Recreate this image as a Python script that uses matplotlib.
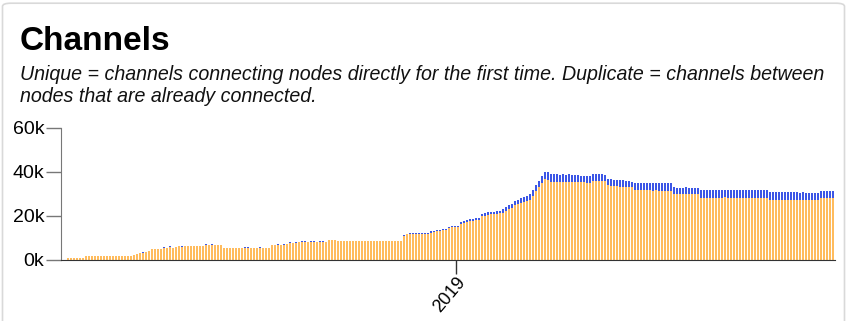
import numpy as np
import pandas as pd
import matplotlib
matplotlib.use("Agg")
import matplotlib.pyplot as plt
import matplotlib.dates as mdates
from matplotlib.patches import FancyBboxPatch

plt.rcParams['font.family'] = ['Liberation Sans', 'DejaVu Sans']

###############################################################################
# data (thousands of channels), one bar every 3 days
###############################################################################

unique = [
    1.0, 1.0, 1.0, 1.0, 1.0, 1.0,
    1.8, 1.8, 1.8, 1.8, 1.8, 1.8, 1.8, 1.8, 1.8, 1.8, 1.8, 1.8, 1.8, 1.8, 1.8, 1.8,
    2.2, 2.6, 3.0, 3.4, 3.8, 4.3,
    4.8, 4.9, 4.9, 4.9,
    5.4, 5.6, 5.9, 5.6, 6.0, 6.2, 6.1,
    6.4, 6.5, 6.5, 6.5, 6.4, 6.5, 6.5,
    6.9, 6.9, 6.9, 7.0, 6.9, 6.8,
    5.5, 5.5, 5.5, 5.5, 5.5, 5.5, 5.5, 5.5, 5.5, 5.5, 5.5, 5.5, 5.5, 5.5, 5.5, 5.5,
    6.6, 6.8, 6.8, 6.9, 7.0,
    7.5, 7.7, 7.8, 7.9, 8.0,
    8.3, 8.3, 8.3, 8.3, 8.3, 8.3, 8.3, 8.3, 8.3,
    8.9, 8.9, 8.9,
    8.5, 8.5, 8.5, 8.5, 8.5, 8.5, 8.5, 8.5, 8.5, 8.5, 8.5,
    8.5, 8.5, 8.5, 8.5, 8.5, 8.5, 8.5, 8.5, 8.5, 8.5, 8.5,
    10.8, 11.6, 11.8, 11.8,
    11.9, 11.9, 11.9, 11.9, 11.9,
    12.5, 12.7, 13.0, 13.3, 13.6, 13.8,
    14.6, 14.8, 14.8, 15.0,
    16.5, 17.0, 17.5, 17.8, 17.8, 18.0, 18.3,
    19.8, 20.2, 20.5, 20.8, 20.8, 21.0, 21.3,
    21.5, 22.4, 23.3, 23.7, 25.0, 25.4, 25.8, 26.2, 26.6, 27.4, 29.2,
    31.3, 33.2, 35.2,
    36.6, 36.5,
    35.6, 35.5, 35.6, 35.4, 35.5, 35.4, 35.5, 35.3, 35.4, 35.3, 35.3, 35.3, 35.2, 35.2,
    36.0, 36.0, 36.1, 36.0, 35.9,
    34.0, 33.8, 33.6, 33.6, 33.4, 33.3, 33.2, 33.1, 33.0,
    31.8, 31.7, 31.7, 31.6, 31.6, 31.6, 31.5, 31.6, 31.5, 31.5, 31.5, 31.4, 31.4,
    29.9, 29.9, 29.9, 29.8, 29.9, 29.9, 29.8, 29.8, 29.8,
    28.1, 28.1, 28.0, 28.1, 28.1, 28.0, 28.1, 28.1, 28.5, 28.1, 28.0, 28.1,
    28.1, 28.0, 28.1, 28.1, 28.0, 28.1, 28.1, 28.0, 28.1, 28.1, 28.0,
    27.4, 27.4, 27.3, 27.4, 27.4, 27.5, 27.4, 27.4, 27.3, 27.4, 27.4, 27.3,
    27.4, 27.3, 27.4, 27.3, 27.3,
    28.1, 28.1, 28.1, 28.0, 28.1,
]

duplicate = [
    0, 0, 0, 0, 0, 0,
    0, 0, 0, 0, 0, 0, 0, 0, 0, 0, 0, 0, 0, 0, 0, 0,
    0, 0.2, 0, 0.3, 0, 0,
    0, 0, 0, 0,
    0.3, 0, 0.3, 0, 0, 0, 0.2,
    0, 0, 0, 0, 0, 0, 0,
    0.3, 0, 0.3, 0, 0, 0,
    0, 0, 0, 0, 0, 0, 0, 0.3, 0.3, 0, 0, 0, 0.3, 0, 0, 0,
    0.3, 0, 0.3, 0, 0.3,
    0, 0.3, 0, 0.3, 0,
    0.3, 0.3, 0, 0.3, 0.3, 0, 0.3, 0.3, 0,
    0.3, 0.3, 0.3,
    0, 0, 0, 0.3, 0, 0, 0, 0, 0, 0, 0,
    0.2, 0, 0, 0, 0, 0.3, 0.3, 0, 0.2, 0, 0,
    0.4, 0.4, 0.4, 0.4,
    0.4, 0.4, 0.4, 0.4, 0.4,
    0.5, 0.5, 0.5, 0.5, 0.5, 0.5,
    0.6, 0.6, 0.6, 0.6,
    0.8, 0.8, 0.9, 0.9, 1.0, 1.0, 1.0,
    1.2, 1.2, 1.2, 1.2, 1.2, 1.2, 1.2,
    1.5, 1.6, 1.7, 1.8, 2.0, 2.1, 2.2, 2.3, 2.4, 2.6, 2.8,
    2.7, 2.8, 2.8,
    3.6, 3.5,
    3.7, 3.5, 3.6, 3.4, 3.5, 3.3, 3.4, 3.3, 3.4, 3.2, 3.1, 3.1, 3.0, 2.8,
    2.9, 2.9, 2.8, 2.9, 2.9,
    3.0, 3.0, 2.9, 2.9, 2.8, 2.9, 2.8, 2.7, 2.5,
    3.1, 3.2, 3.2, 3.3, 3.3, 3.3, 3.4, 3.3, 3.4, 3.4, 3.4, 3.5, 3.5,
    3.1, 3.0, 3.0, 3.1, 3.1, 3.0, 3.1, 3.1, 3.1,
    3.5, 3.5, 3.6, 3.5, 3.5, 3.6, 3.5, 3.5, 3.1, 3.5, 3.6, 3.5,
    3.5, 3.6, 3.5, 3.5, 3.6, 3.5, 3.5, 3.6, 3.5, 3.5, 3.6,
    3.3, 3.3, 3.4, 3.3, 3.3, 3.2, 3.3, 3.3, 3.4, 3.3, 3.2, 3.4,
    3.0, 3.1, 2.9, 3.0, 3.0,
    3.2, 3.2, 3.2, 3.3, 3.2,
]

dates = pd.date_range('2017-12-08', periods=len(unique), freq='3D')
year_ticks = [pd.Timestamp('2019-01-01')]

unique = np.array(unique) * 1000
duplicate = np.array(duplicate) * 1000

###############################################################################
###############################################################################

fig = plt.figure(figsize=(8.48, 3.21), dpi=100)
fig.patch.set_facecolor('white')

# card outline
card = FancyBboxPatch((2.5 / 848, -0.1), 842 / 848, 1.09, transform=fig.transFigure,
                      boxstyle='round,pad=0,rounding_size=0.01', fc='white',
                      ec='#d9d9d9', lw=1.2, zorder=-10)
fig.patches.append(card)

fig.text(20 / 848, 1 - 50 / 321, 'Channels', fontsize=24, fontweight='bold', color='black')
fig.text(20 / 848, 1 - 80 / 321,
         'Unique = channels connecting nodes directly for the first time. Duplicate = channels between',
         fontsize=14.1, style='italic', color='#111111')
fig.text(20 / 848, 1 - 102 / 321, 'nodes that are already connected.',
         fontsize=14.1, style='italic', color='#111111')

ax = fig.add_axes([61 / 848, 1 - 260 / 321, (835 - 61) / 848, 132 / 321])

w = 3 * 0.8
ax.bar(dates, unique, width=w, color='#FFBC5E', linewidth=0, align='edge')
ax.bar(dates, duplicate, bottom=unique, width=w, color='#3C56E6', linewidth=0, align='edge')

ax.set_xlim(dates[0] - pd.Timedelta(days=6), dates[-1] + pd.Timedelta(days=3))
ax.set_ylim(0, 60000)
ax.set_yticks([0, 20000, 40000, 60000])
ax.set_yticklabels(['0k', '20k', '40k', '60k'])

ax.set_xticks(year_ticks)
ax.xaxis.set_major_formatter(mdates.DateFormatter('%Y'))
for lab in ax.get_xticklabels():
    lab.set_rotation(50)
    lab.set_ha('right')
    lab.set_va('top')
    lab.set_rotation_mode('anchor')

ax.spines['top'].set_visible(False)
ax.spines['right'].set_visible(False)
ax.spines['left'].set_color('#777777')
ax.spines['bottom'].set_color('#333333')
ax.tick_params(axis='y', length=11, width=1, color='#777777', pad=1, labelsize=14)
ax.tick_params(axis='x', length=10, width=1, color='#333333', pad=0, labelsize=13)
ax.patch.set_alpha(0)

fig.savefig('out.png', dpi=100)
